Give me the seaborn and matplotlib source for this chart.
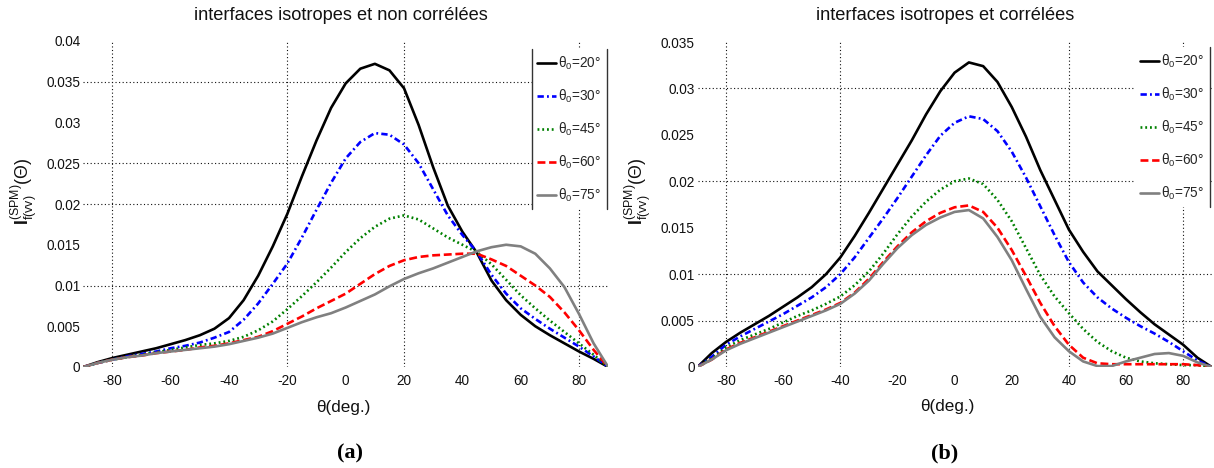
import matplotlib
matplotlib.use("Agg")
import matplotlib.pyplot as plt
from matplotlib.lines import Line2D
from matplotlib import font_manager
import pandas as pd
import seaborn as sns

# ---------------------------------------------------------------- data
theta = [-90, -85, -80, -75, -70, -65, -60, -55, -50, -45, -40, -35, -30,
         -25, -20, -15, -10, -5, 0, 5, 10, 15, 20, 25, 30, 35, 40, 45, 50,
         55, 60, 65, 70, 75, 80, 85, 90]

# (a) interfaces isotropes et non corrélées
a_20 = [0, 0.0006, 0.0011, 0.0015, 0.0019, 0.0023, 0.0028, 0.0033, 0.0039,
        0.0047, 0.0060, 0.0082, 0.0112, 0.0148, 0.0188, 0.0234, 0.0278,
        0.0318, 0.0348, 0.0366, 0.0372, 0.0364, 0.0342, 0.0297, 0.0245,
        0.0198, 0.0166, 0.0140, 0.0106, 0.0082, 0.0064, 0.0050, 0.0039,
        0.0029, 0.0019, 0.0010, 0]
a_30 = [0, 0.0005, 0.0009, 0.0013, 0.0016, 0.0019, 0.0023, 0.0026, 0.0030,
        0.0036, 0.0043, 0.0058, 0.0078, 0.0102, 0.0127, 0.0159, 0.0193,
        0.0226, 0.0256, 0.0276, 0.0287, 0.0285, 0.0273, 0.0250, 0.0218,
        0.0186, 0.0162, 0.0141, 0.0113, 0.0090, 0.0072, 0.0059, 0.0047,
        0.0036, 0.0025, 0.0013, 0]
a_45 = [0, 0.0005, 0.0009, 0.0012, 0.0015, 0.0018, 0.0021, 0.0024, 0.0027,
        0.0029, 0.0032, 0.0037, 0.0045, 0.0056, 0.0071, 0.0087, 0.0104,
        0.0122, 0.0141, 0.0158, 0.0172, 0.0182, 0.0186, 0.0181, 0.0170,
        0.0159, 0.0150, 0.0141, 0.0126, 0.0107, 0.0088, 0.0072, 0.0057,
        0.0043, 0.0029, 0.0015, 0]
a_60 = [0, 0.0005, 0.0009, 0.0012, 0.0014, 0.0017, 0.0019, 0.0021, 0.0024,
        0.0026, 0.0029, 0.0033, 0.0037, 0.0044, 0.0053, 0.0062, 0.0072,
        0.0081, 0.0090, 0.0102, 0.0114, 0.0124, 0.0131, 0.0135, 0.0137,
        0.0138, 0.0139, 0.0139, 0.0132, 0.0124, 0.0112, 0.0100, 0.0086,
        0.0067, 0.0045, 0.0021, 0]
a_75 = [0, 0.0005, 0.0009, 0.0012, 0.0014, 0.0017, 0.0019, 0.0021, 0.0023,
        0.0025, 0.0028, 0.0032, 0.0036, 0.0041, 0.0048, 0.0055, 0.0061,
        0.0066, 0.0073, 0.0081, 0.0089, 0.0099, 0.0108, 0.0115, 0.0121,
        0.0128, 0.0135, 0.0142, 0.0147, 0.0150, 0.0148, 0.0139, 0.0121,
        0.0098, 0.0065, 0.0029, 0]

# (b) interfaces isotropes et corrélées
b_20 = [0, 0.0015, 0.0027, 0.0037, 0.0046, 0.0055, 0.0065, 0.0075, 0.0086,
        0.0100, 0.0118, 0.0141, 0.0166, 0.0192, 0.0218, 0.0244, 0.0272,
        0.0297, 0.0317, 0.0328, 0.0324, 0.0307, 0.0280, 0.0248, 0.0212,
        0.0180, 0.0148, 0.0124, 0.0103, 0.0088, 0.0073, 0.0059, 0.0046,
        0.0035, 0.0024, 0.0010, 0]
b_30 = [0, 0.0011, 0.0024, 0.0033, 0.0041, 0.0049, 0.0057, 0.0066, 0.0075,
        0.0086, 0.0100, 0.0118, 0.0139, 0.0160, 0.0182, 0.0205, 0.0228,
        0.0249, 0.0263, 0.0270, 0.0267, 0.0254, 0.0232, 0.0204, 0.0173,
        0.0142, 0.0113, 0.0091, 0.0075, 0.0063, 0.0053, 0.0044, 0.0036,
        0.0027, 0.0017, 0.0007, 0]
b_45 = [0, 0.0009, 0.0021, 0.0029, 0.0035, 0.0041, 0.0048, 0.0055, 0.0061,
        0.0068, 0.0076, 0.0088, 0.0103, 0.0122, 0.0143, 0.0162, 0.0178,
        0.0191, 0.0200, 0.0203, 0.0197, 0.0180, 0.0157, 0.0128, 0.0099,
        0.0076, 0.0058, 0.0041, 0.0027, 0.0017, 0.0010, 0.0006, 0.0004,
        0.0003, 0.0002, 0.0002, 0]
b_60 = [0, 0.0008, 0.0019, 0.0026, 0.0032, 0.0038, 0.0044, 0.0050, 0.0056,
        0.0062, 0.0069, 0.0080, 0.0095, 0.0113, 0.0130, 0.0145, 0.0157,
        0.0166, 0.0172, 0.0174, 0.0167, 0.0150, 0.0126, 0.0098, 0.0069,
        0.0044, 0.0024, 0.0010, 0.0004, 0.0003, 0.0003, 0.0003, 0.0003,
        0.0003, 0.0003, 0.0002, 0]
b_75 = [0, 0.0008, 0.0018, 0.0025, 0.0031, 0.0037, 0.0043, 0.0049, 0.0055,
        0.0061, 0.0068, 0.0079, 0.0093, 0.0111, 0.0128, 0.0142, 0.0153,
        0.0161, 0.0167, 0.0169, 0.0160, 0.0140, 0.0115, 0.0084, 0.0054,
        0.0032, 0.0017, 0.0006, 0.0001, 0.0001, 0.0006, 0.0010, 0.0014,
        0.0015, 0.0012, 0.0005, 0]

incidence = ["20", "30", "45", "60", "75"]
legend_labels = [r"$\theta_0$=" + v + "°" for v in incidence]

titles = ["interfaces isotropes et non corrélées",
          "interfaces isotropes et corrélées"]
captions = ["(a)", "(b)"]
x_label = "θ(deg.)"
y_label = r"$\mathbf{I}^{(SPM)}_{f(vv)}(\Theta)$"

x_ticks = [-80, -60, -40, -20, 0, 20, 40, 60, 80]
y_ticks_a = [0, 0.005, 0.01, 0.015, 0.02, 0.025, 0.03, 0.035, 0.04]
y_tick_labels_a = ["0", "0.005", "0.01", "0.015", "0.02", "0.025", "0.03",
                   "0.035", "0.04"]
y_ticks_b = [0, 0.005, 0.01, 0.015, 0.02, 0.025, 0.03, 0.035]
y_tick_labels_b = ["0", "0.005", "0.01", "0.015", "0.02", "0.025", "0.03",
                   "0.035"]

# ---------------------------------------------------------------- style
sns.set_theme(style="white")
_names = {f.name for f in font_manager.fontManager.ttflist}
NARROW = "Liberation Sans Narrow" in _names
SANS = "Liberation Sans Narrow" if NARROW else "Liberation Sans"
k = 1.0 if NARROW else 0.85

plt.rcParams["font.family"] = [SANS, "DejaVu Sans"]
plt.rcParams["mathtext.fontset"] = "custom"
plt.rcParams["mathtext.rm"] = SANS
plt.rcParams["mathtext.it"] = SANS
plt.rcParams["mathtext.bf"] = SANS + ":bold"
plt.rcParams["mathtext.default"] = "rm"

series_style = [
    dict(color="#000000", ls="-"),
    dict(color="#0000ff", ls=(0, (2.4, 1.2, 0.7, 1.2))),
    dict(color="#008000", ls=(0, (0.7, 1.1))),
    dict(color="#ff0000", ls=(0, (3.0, 1.4))),
    dict(color="#808080", ls="-"),
]
grid_ls = (0, (1.0, 2.2))

W, H = 1214, 468
fig = plt.figure(figsize=(W / 100, H / 100), dpi=100)


def box(left, top, right, bottom):
    return [left / W, 1 - bottom / H, (right - left) / W, (bottom - top) / H]


panels = [
    dict(rect=box(83.2, 41, 608.2, 367), data=[a_20, a_30, a_45, a_60, a_75],
         ylim=0.04, yt=y_ticks_a, ytl=y_tick_labels_a,
         gx=[-80, -20, 20, 80], gy=[0.01, 0.02, 0.025, 0.035],
         leg_anchor=(0.9977, 0.9755), edges=("left", "right"),
         title_x=341, cap_x=350, xlab_x=0.495),
    dict(rect=box(697.5, 42, 1211.7, 367), data=[b_20, b_30, b_45, b_60, b_75],
         ylim=0.035, yt=y_ticks_b, ytl=y_tick_labels_b,
         gx=[-80, -40, 40, 80], gy=[0.005, 0.01, 0.02, 0.03],
         leg_anchor=(0.9967, 0.9846), edges=("right",),
         title_x=945, cap_x=945, xlab_x=0.485),
]

legends = []
for i, p in enumerate(panels):
    ax = fig.add_axes(p["rect"])
    frame = pd.DataFrame({"theta": theta})
    handles = []
    for vals, st, lab in zip(p["data"], series_style, legend_labels):
        frame["I"] = vals
        sns.lineplot(data=frame, x="theta", y="I", ax=ax, color=st["color"],
                     lw=1.9, legend=False)
        line = ax.lines[-1]
        line.set_linestyle(st["ls"])
        line.set_label(lab)
        line.set_zorder(3)
        handles.append(line)

    for gx in p["gx"]:
        ax.axvline(gx, color="#111111", lw=0.8, ls=grid_ls, zorder=1)
    for gy in p["gy"]:
        ax.axhline(gy, color="#111111", lw=0.8, ls=grid_ls, zorder=1)

    ax.set_xlim(-90, 90)
    ax.set_ylim(0, p["ylim"])
    ax.set_xticks(x_ticks)
    ax.set_xticklabels([str(v) for v in x_ticks])
    ax.set_yticks(p["yt"])
    ax.set_yticklabels(p["ytl"])
    ax.tick_params(axis="both", length=0, labelsize=11.5 * k, colors="#111111")
    ax.tick_params(axis="x", pad=5)
    ax.tick_params(axis="y", pad=2)
    for s in ax.spines.values():
        s.set_visible(False)
    ax.set_facecolor("white")

    ax.set_xlabel(x_label, fontsize=14.5 * k, color="#111111")
    ax.xaxis.set_label_coords(p["xlab_x"], -0.100)
    ax.set_ylabel(y_label, fontsize=15 * k, color="#111111")
    ax.yaxis.set_label_coords(-0.084 * 525 / (p["rect"][2] * W), 0.54)

    fig.text(p["title_x"] / W, 1 - 16 / H, titles[i],
             fontsize=15.5 * k, ha="center", va="center", color="#111111")
    fig.text(p["cap_x"] / W, 1 - 453 / H, captions[i],
             family="Liberation Serif", weight="bold", fontsize=16,
             ha="center", va="center", color="#000000")

    leg = ax.legend(handles=handles, loc="upper right",
                    bbox_to_anchor=p["leg_anchor"], borderaxespad=0,
                    frameon=True, fancybox=False, framealpha=1,
                    facecolor="white", edgecolor="none", fontsize=11.5 * k,
                    handlelength=1.35, handletextpad=0.2, labelspacing=1.15,
                    borderpad=0.4)
    leg.set_zorder(5)
    legends.append((leg, p["edges"]))

# legend box: only the vertical sides are drawn
fig.canvas.draw()
for leg, edges in legends:
    bb = leg.get_frame().get_window_extent()
    x0, x1 = bb.x0 / W, bb.x1 / W
    y0, y1 = bb.y0 / H, bb.y1 / H
    for side in edges:
        xe = x0 if side == "left" else x1
        fig.add_artist(Line2D([xe, xe], [y0, y1], transform=fig.transFigure,
                              color="#333333", lw=1.0, zorder=6))

fig.savefig("out.png", dpi=100, facecolor="white")
